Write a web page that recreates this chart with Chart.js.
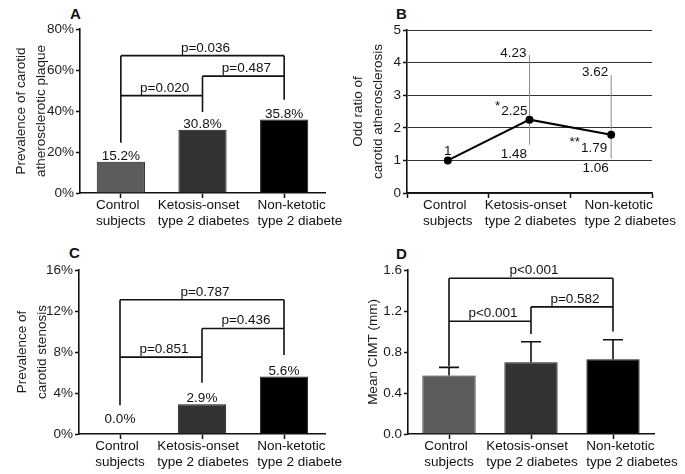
<!DOCTYPE html>
<html>
<head>
<meta charset="utf-8">
<script src="https://cdn.jsdelivr.net/npm/chart.js@4.4.1/dist/chart.umd.min.js"></script>
<style>
  body { margin: 0; background: #fff; width: 685px; height: 474px; position: relative; overflow: hidden; }
  canvas { position: absolute; }
  .tag { position: absolute; font: bold 15px "Liberation Sans", Arial, sans-serif; color: #111; }
</style>
</head>
<body>
<div class="tag" style="left:70px;top:5px">A</div>
<div class="tag" style="left:396px;top:5px">B</div>
<div class="tag" style="left:69px;top:244px">C</div>
<div class="tag" style="left:396px;top:245px">D</div>
<canvas id="chartA" width="342" height="235" style="left:0;top:0"></canvas>
<canvas id="chartB" width="343" height="235" style="left:342px;top:0"></canvas>
<canvas id="chartC" width="342" height="239" style="left:0;top:235px"></canvas>
<canvas id="chartD" width="343" height="239" style="left:342px;top:235px"></canvas>
<script>
// ---- data ----
const categories = [["Control", "subjects"], ["Ketosis-onset", "type 2 diabetes"], ["Non-ketotic", "type 2 diabetes"]];

const plaquePct = [15.2, 30.8, 35.8];          // A
const orValue = [1, 2.25, 1.79];                // B
const orLower = [null, 1.48, 1.06];
const orUpper = [null, 4.23, 3.62];
const orStars = ["", "*", "**"];
const stenosisPct = [0.0, 2.9, 5.6];            // C
const cimtMean = [0.57, 0.70, 0.73];            // D
const cimtUpper = [0.65, 0.90, 0.92];           // mean + SD

const ticksA = [0, 20, 40, 60, 80];
const ticksB = [0, 1, 2, 3, 4, 5];
const ticksC = [0, 4, 8, 12, 16];
const ticksD = [0, 0.4, 0.8, 1.2, 1.6];

// p-value brackets: from/to category, level, leg ends (null = no leg)
const pvalA = [
  { text: "p=0.036", from: 0, to: 2, y: 67, l: 24.5, r: 45.5 },
  { text: "p=0.020", from: 0, to: 1, y: 47.5, l: null, r: 39.5 },
  { text: "p=0.487", from: 1, to: 2, y: 57, l: 47.5, r: null }
];
const pvalC = [
  { text: "p=0.787", from: 0, to: 2, y: 13.1, l: 2.8, r: 7.7 },
  { text: "p=0.851", from: 0, to: 1, y: 7.5, l: null, r: 5.0 },
  { text: "p=0.436", from: 1, to: 2, y: 10.3, l: 7.5, r: null }
];
const pvalD = [
  { text: "p<0.001", from: 0, to: 2, y: 1.52, l: 0.66, r: 1.0 },
  { text: "p<0.001", from: 0, to: 1, y: 1.10, l: null, r: 0.975 },
  { text: "p=0.582", from: 1, to: 2, y: 1.24, l: 1.10, r: null }
];

const barColors = ["#5c5c5c", "#333333", "#000000"];

// ---- common look ----
const FONT = "'Liberation Sans', Arial, sans-serif";
Chart.defaults.font.family = FONT;
Chart.defaults.font.size = 13.5;
Chart.defaults.color = "#1a1a1a";
Chart.defaults.animation = false;

const INK = "#111";
const labelShift = [0, 1, 19];   // last category label sits right of its tick, as in the figure

// draws category labels, value labels, error bars and brackets through the scales
const extras = {
  id: "extras",
  beforeDatasetsDraw(chart, args, o) {
    if (!o.ci) return;
    const ctx = chart.ctx, x = chart.scales.x, y = chart.scales.y;
    ctx.save();
    ctx.strokeStyle = "#8a8a8a";
    ctx.lineWidth = 1;
    o.ci.lower.forEach((lo, i) => {
      if (lo == null) return;
      const px = x.getPixelForValue(i);
      ctx.beginPath();
      ctx.moveTo(px, y.getPixelForValue(lo));
      ctx.lineTo(px, y.getPixelForValue(o.ci.upper[i]));
      ctx.stroke();
    });
    ctx.restore();
  },
  afterDatasetsDraw(chart, args, o) {
    const ctx = chart.ctx, x = chart.scales.x, y = chart.scales.y;
    const meta = chart.getDatasetMeta(0);
    ctx.save();
    ctx.font = "13.5px " + FONT;
    ctx.fillStyle = INK;
    ctx.strokeStyle = INK;
    ctx.lineWidth = 1.6;

    // category labels: left-aligned two-line blocks
    const base = y.getPixelForValue(0);
    ctx.textBaseline = "middle";
    ctx.textAlign = "left";
    chart.data.labels.forEach((lines, i) => {
      const w = Math.max(...lines.map(t => ctx.measureText(t).width));
      const left = x.getPixelForValue(i) + labelShift[i] - w / 2;
      lines.forEach((t, k) => ctx.fillText(t, left, base + 12.5 + k * 16));
    });

    if (o.sdTop) {
      o.sdTop.forEach((v, i) => {
        const bar = meta.data[i];
        const top = y.getPixelForValue(v);
        ctx.beginPath();
        ctx.moveTo(bar.x, bar.y);
        ctx.lineTo(bar.x, top);
        ctx.moveTo(bar.x - 10, top);
        ctx.lineTo(bar.x + 10, top);
        ctx.stroke();
      });
    }

    if (o.percentLabels) {
      ctx.textAlign = "center";
      ctx.textBaseline = "alphabetic";
      o.percentLabels.forEach((v, i) => {
        const bar = meta.data[i];
        ctx.fillText(v.toFixed(1) + "%", bar.x, Math.min(bar.y - 2, base - 11));
      });
    }

    if (o.brackets) {
      o.brackets.forEach(b => {
        const x1 = x.getPixelForValue(b.from), x2 = x.getPixelForValue(b.to);
        const yy = y.getPixelForValue(b.y);
        ctx.beginPath();
        ctx.moveTo(x1, yy);
        ctx.lineTo(x2, yy);
        if (b.l != null) { ctx.moveTo(x1, yy); ctx.lineTo(x1, y.getPixelForValue(b.l)); }
        if (b.r != null) { ctx.moveTo(x2, yy); ctx.lineTo(x2, y.getPixelForValue(b.r)); }
        ctx.stroke();
        ctx.textAlign = "center";
        ctx.textBaseline = "alphabetic";
        ctx.fillText(b.text, (x1 + x2) / 2 + 3, yy - 4);
      });
    }

    if (o.ci) {
      ctx.textBaseline = "alphabetic";
      o.values.forEach((v, i) => {
        const pt = meta.data[i];
        const t = String(v);
        if (i === 0) {
          ctx.textAlign = "center";
          ctx.fillText(t, pt.x, pt.y - 5);
          return;
        }
        ctx.textAlign = "right";
        const below = i === 2;
        const by = below ? pt.y + 17 : pt.y - 4.5;
        const rx = pt.x - (below ? 4 : 2);
        ctx.fillText(t, rx, by);
        const w = ctx.measureText(t).width;
        ctx.fillText(o.stars[i], rx - w - 1, by - (below ? 6 : 5));
        const up = y.getPixelForValue(o.ci.upper[i]);
        const lo = y.getPixelForValue(o.ci.lower[i]);
        ctx.fillText(String(o.ci.upper[i]), pt.x - 3, up + 1.5);
        ctx.fillText(String(o.ci.lower[i]), pt.x - 2.5, lo + 13.5);
      });
    }
    ctx.restore();
  }
};

function yAxis(ticks, fmt, title, width, titlePad, gridOn) {
  return {
    min: ticks[0],
    max: ticks[ticks.length - 1],
    afterBuildTicks: s => { s.ticks = ticks.map(v => ({ value: v })); },
    afterFit: s => { s.width = width; },
    ticks: { callback: fmt, padding: 2, color: "#1a1a1a" },
    grid: { drawOnChartArea: gridOn, drawTicks: true, tickLength: 4, tickColor: INK, tickWidth: 1.5,
            color: "#333", lineWidth: 1 },
    border: { display: true, color: INK, width: 1.6 },
    title: { display: true, text: title, color: "#1a1a1a",
             font: { size: 13.5, lineHeight: 1.5 }, padding: { top: titlePad, bottom: 0 } }
  };
}

function xAxis(height, tickOffset) {
  return {
    offset: true,
    afterFit: s => { s.height = height; },
    ticks: { display: false },
    grid: { offset: tickOffset, drawOnChartArea: false, drawTicks: true, tickLength: 5,
            tickColor: INK, tickWidth: 1.5 },
    border: { display: true, color: INK, width: 1.6 }
  };
}

function barChart(id, values, yTicks, fmt, title, yWidth, titlePad, pad, xH, barPct, extra) {
  return new Chart(document.getElementById(id), {
    type: "bar",
    data: {
      labels: categories,
      datasets: [{
        data: values,
        backgroundColor: barColors,
        borderColor: "#1a1a1a",
        borderWidth: 1,
        barPercentage: barPct,
        categoryPercentage: 1
      }]
    },
    plugins: [extras],
    options: {
      responsive: false,
      layout: { padding: pad },
      plugins: { legend: { display: false }, tooltip: { enabled: false }, extras: extra },
      scales: {
        x: xAxis(xH, false),
        y: yAxis(yTicks, fmt, title, yWidth, titlePad, false)
      }
    }
  });
}

// A
barChart("chartA", plaquePct, ticksA, v => v + "%",
  ["Prevalence of carotid", "atherosclerotic plaque"], 80, 11,
  { top: 29, right: 17, bottom: 0, left: 0 }, 42, 0.59,
  { percentLabels: plaquePct, brackets: pvalA });

// C
barChart("chartC", stenosisPct, ticksC, v => v + "%",
  ["Prevalence of", "carotid stenosis"], 79, 12,
  { top: 35, right: 17, bottom: 0, left: 0 }, 40, 0.59,
  { percentLabels: stenosisPct, brackets: pvalC });

// D
barChart("chartD", cimtMean, ticksD, v => v.toFixed(1),
  "Mean CIMT (mm)", 66, 21,
  { top: 35, right: 31, bottom: 0, left: 0 }, 40, 0.65,
  { sdTop: cimtUpper, brackets: pvalD });

// B
new Chart(document.getElementById("chartB"), {
  type: "line",
  data: {
    labels: categories,
    datasets: [{
      data: orValue,
      borderColor: "#000",
      borderWidth: 2,
      pointBackgroundColor: "#000",
      pointBorderColor: "#000",
      pointRadius: 3,
      tension: 0
    }]
  },
  plugins: [extras],
  options: {
    responsive: false,
    layout: { padding: { top: 30, right: 33, bottom: 0, left: 0 } },
    plugins: {
      legend: { display: false }, tooltip: { enabled: false },
      extras: { values: orValue, stars: orStars, ci: { lower: orLower, upper: orUpper } }
    },
    scales: {
      x: xAxis(42, true),
      y: yAxis(ticksB, v => String(v), ["Odd ratio of", "carotid atherosclerosis"], 65, 6, true)
    }
  }
});
</script>
</body>
</html>
